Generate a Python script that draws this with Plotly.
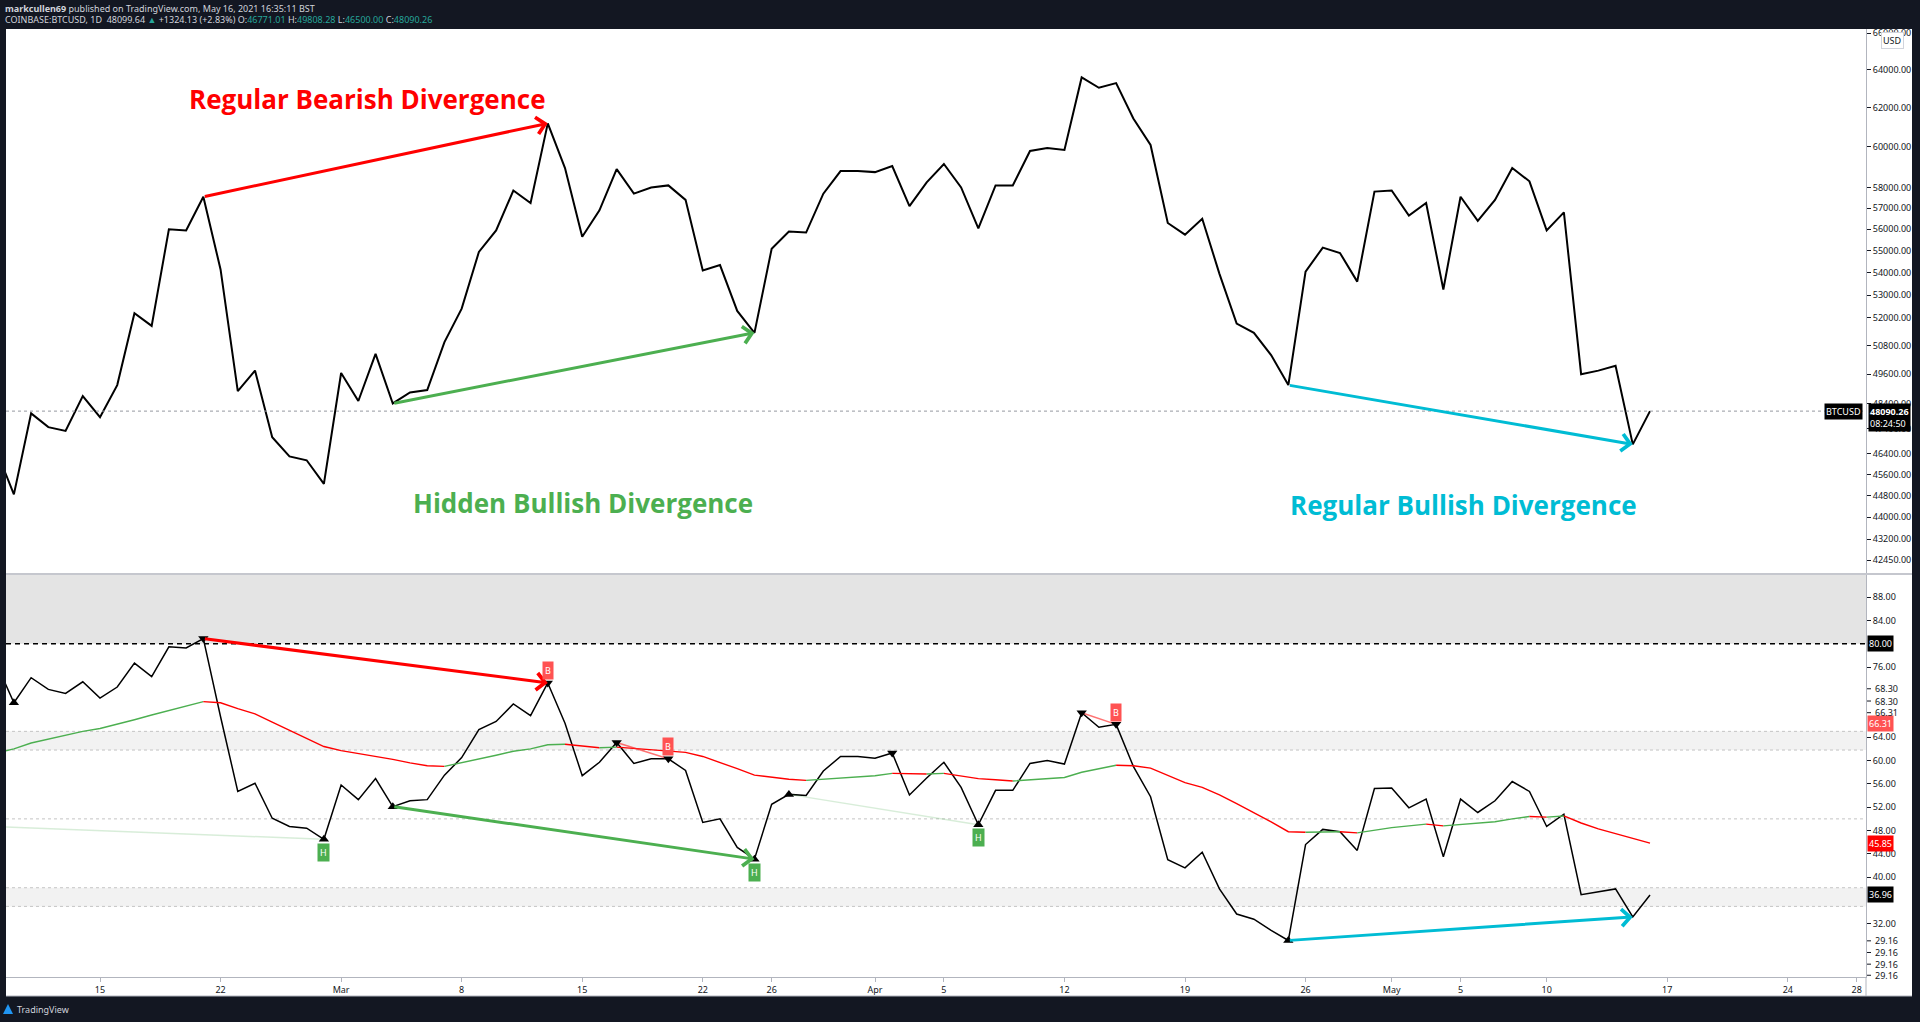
import numpy as np
import pandas as pd
import plotly.graph_objects as go
from plotly.subplots import make_subplots

## BTCUSD daily closes (Feb 9 - May 16, 2021)
dates = pd.date_range("2021-02-09", "2021-05-16", freq="D")
close = [46500, 44850, 48000, 47450, 47300, 48700, 47850, 49150, 52200, 51650,
         56000, 55950, 57550, 54150, 48900, 49750, 47050, 46300, 46150, 45250,
         49650, 48500, 50450, 48400, 48850, 48950, 50950, 52400, 54950, 55950,
         57850, 57250, 61200, 58950, 55650, 56900, 58900, 57700, 58000, 58100,
         57400, 54100, 54350, 52300, 51350, 55100, 55900, 55850, 57700, 58800,
         58800, 58750, 59050, 57100, 58250, 59150, 58000, 56050, 58100, 58100,
         59800, 59950, 59850, 63600, 63050, 63300, 61450, 60100, 56300, 55750,
         56500, 53950, 51750, 51350, 50400, 49150, 54050, 55150, 54900, 53600,
         57800, 57850, 56650, 57250, 53250, 57550, 56400, 57400, 58950, 58300,
         55950, 56800, 49600, 49750, 49950, 46770, 48090.26]

## RSI and its moving average (lower pane)
rsi = [76.5, 69.9, 74.2, 72.2, 71.5, 73.5, 70.7, 72.6, 76.7, 74.4,
       79.5, 79.3, 80.9, 67.5, 54.7, 56.1, 50.1, 48.7, 48.4, 46.5,
       55.8, 53.3, 56.9, 52.1, 53.1, 53.3, 57.5, 60.5, 65.3, 66.7,
       69.7, 67.7, 73.3, 66.4, 57.4, 59.7, 63.1, 59.5, 60.3, 60.3,
       58.3, 49.4, 50.0, 45.1, 43.1, 52.5, 54.2, 54.0, 58.2, 60.7,
       60.7, 60.4, 61.3, 54.1, 57.0, 59.7, 55.4, 49.0, 54.9, 54.9,
       59.5, 60.0, 59.4, 68.2, 65.7, 66.2, 59.0, 53.8, 43.0, 41.6,
       44.3, 38.0, 33.7, 32.8, 30.9, 29.16, 45.6, 48.2, 47.8, 44.6,
       55.2, 55.3, 51.9, 53.4, 43.5, 53.4, 51.1, 53.1, 56.4, 54.7,
       48.7, 50.8, 37.0, 37.5, 38.0, 33.2, 36.96]
rsi_ma = [61.3, 62.0, 63.0, 63.7, 64.4, 65.0, 65.5, 66.2, 67.0, 67.8,
          68.6, 69.3, 70.1, 69.9, 68.9, 68.0, 66.6, 65.2, 63.8, 62.4,
          61.7, 61.2, 60.8, 60.2, 59.6, 59.1, 59.0, 59.6, 60.2, 60.9,
          61.6, 62.0, 62.7, 62.8, 62.5, 62.2, 62.3, 62.1, 61.8, 61.6,
          61.4, 60.7, 59.7, 58.6, 57.5, 57.1, 56.8, 56.6, 56.8, 57.0,
          57.2, 57.4, 57.8, 57.7, 57.7, 57.8, 57.4, 56.9, 56.7, 56.5,
          56.7, 56.9, 57.1, 58.0, 58.6, 59.2, 59.1, 58.7, 57.4, 56.2,
          55.4, 54.1, 52.6, 51.1, 49.5, 47.8, 47.7, 47.75, 47.8, 47.6,
          48.1, 48.5, 48.8, 49.1, 48.8, 49.0, 49.2, 49.5, 50.0, 50.4,
          50.3, 50.5, 49.3, 48.3, 47.5, 46.6, 45.85]

price_ticks = [42450, 43200, 44000, 44800, 45600, 46400, 47400, 48400, 49600, 50800,
               52000, 53000, 54000, 55000, 56000, 57000, 58000, 60000, 62000, 64000, 66000]
rsi_ticks = [88, 84, 76, 64, 60, 56, 52, 48, 44, 40, 32]
x_tickvals = ["2021-02-15", "2021-02-22", "2021-03-01", "2021-03-08", "2021-03-15",
              "2021-03-22", "2021-03-26", "2021-04-01", "2021-04-05", "2021-04-12",
              "2021-04-19", "2021-04-26", "2021-05-01", "2021-05-05", "2021-05-10",
              "2021-05-17", "2021-05-24", "2021-05-28"]
x_ticktext = ["15", "22", "Mar", "8", "15", "22", "26", "Apr", "5", "12", "19", "26",
              "May", "5", "10", "17", "24", "28"]

## pivots found by the indicator
pivot_highs = ["2021-02-21", "2021-03-13", "2021-03-17", "2021-03-20", "2021-04-02",
               "2021-04-13", "2021-04-15"]
pivot_lows = ["2021-02-10", "2021-02-28", "2021-03-04", "2021-03-25", "2021-03-27",
              "2021-04-07", "2021-04-25"]
bear_tags = ["2021-03-13", "2021-03-20", "2021-04-15"]
hidden_tags = ["2021-02-28", "2021-03-25", "2021-04-07"]

## hand drawn divergences: start, end, label
RED, GREEN, CYAN = "#ff0000", "#4caf50", "#00bcd4"
divergences = [("2021-02-21", "2021-03-13", RED, "Regular Bearish Divergence"),
               ("2021-03-04", "2021-03-25", GREEN, "Hidden Bullish Divergence"),
               ("2021-04-25", "2021-05-15", CYAN, "Regular Bullish Divergence")]
## faint indicator lines (start date, start rsi, end date, end rsi)
faint_lines = [("2021-02-09 13:00", 48.6, "2021-02-28", 46.5, "rgba(76,175,80,0.22)"),
               ("2021-03-27", 54.2, "2021-04-07", 49.0, "rgba(76,175,80,0.22)"),
               ("2021-03-17", 63.1, "2021-03-20", 60.3, "rgba(255,40,40,0.65)"),
               ("2021-04-13", 68.2, "2021-04-15", 66.2, "rgba(255,40,40,0.65)")]

price = pd.Series(close, index=dates)
osc = pd.Series(rsi, index=dates)
last_price = close[-1]

W, H = 1920, 1022
L, R, T, B = 6, 54, 29, 45
PW, PH = W - L - R, H - T - B
def px(x):  # pixel x -> paper
    return (x - L) / PW
def py(y):  # pixel y -> paper
    return (H - B - y) / PH

FONT = "Noto Sans"
TXT = "#131722"

fig = make_subplots(rows=2, cols=1, shared_xaxes=True)

## price pane
fig.add_trace(go.Scatter(x=dates, y=close, mode="lines",
                         line=dict(color="black", width=2), hoverinfo="skip"), row=1, col=1)

## oscillator pane
fig.add_trace(go.Scatter(x=dates, y=rsi, mode="lines",
                         line=dict(color="black", width=1.5), hoverinfo="skip"), row=2, col=1)

# moving average coloured by slope
start = 0
up = rsi_ma[1] > rsi_ma[0]
runs = []
for i in range(1, len(rsi_ma) - 1):
    nxt = rsi_ma[i + 1] > rsi_ma[i]
    if nxt != up:
        runs.append((start, i, up))
        start, up = i, nxt
runs.append((start, len(rsi_ma) - 1, up))
for s, e, u in runs:
    fig.add_trace(go.Scatter(x=dates[s:e + 1], y=rsi_ma[s:e + 1], mode="lines",
                             line=dict(color=GREEN if u else RED, width=1.4),
                             hoverinfo="skip"), row=2, col=1)

for d0, v0, d1, v1, c in faint_lines:
    fig.add_trace(go.Scatter(x=[d0, d1], y=[v0, v1], mode="lines",
                             line=dict(color=c, width=1.5), hoverinfo="skip"), row=2, col=1)

fig.add_trace(go.Scatter(x=pivot_highs, y=[osc[d] for d in pivot_highs], mode="markers",
                         marker=dict(symbol="triangle-down", size=9, color="black"),
                         hoverinfo="skip"), row=2, col=1)
fig.add_trace(go.Scatter(x=pivot_lows, y=[osc[d] for d in pivot_lows], mode="markers",
                         marker=dict(symbol="triangle-up", size=9, color="black"),
                         hoverinfo="skip"), row=2, col=1)

ann = []
## divergence arrows in both panes
for d0, d1, c, label in divergences:
    ann.append(dict(x=d1, y=np.log10(price[d1]), ax=d0, ay=np.log10(price[d0]),
                    xref="x", yref="y", axref="x", ayref="y", text="", showarrow=True,
                    arrowhead=4, arrowsize=1.1, arrowwidth=3, arrowcolor=c))
    ann.append(dict(x=d1, y=osc[d1], ax=d0, ay=osc[d0],
                    xref="x2", yref="y2", axref="x2", ayref="y2", text="", showarrow=True,
                    arrowhead=4, arrowsize=1.1, arrowwidth=3, arrowcolor=c))

label_pos = [(367, 99), (583, 503), (1463, 505)]
for (d0, d1, c, label), (lx, ly) in zip(divergences, label_pos):
    ann.append(dict(x=px(lx), y=py(ly), xref="paper", yref="paper", text=label,
                    xanchor="center", yanchor="middle", showarrow=False,
                    font=dict(family="Open Sans", size=26, color=c, weight="bold")))

for d in bear_tags:
    ann.append(dict(x=d, y=osc[d], xref="x2", yref="y2", text="B", showarrow=False,
                    yshift=12, bgcolor="#ff5252", borderpad=2,
                    font=dict(family=FONT, size=9, color="white")))
for d in hidden_tags:
    ann.append(dict(x=d, y=osc[d], xref="x2", yref="y2", text="H", showarrow=False,
                    yshift=-13, bgcolor="#4caf50", borderpad=2,
                    font=dict(family=FONT, size=9, color="white")))

## axis value boxes
ann.append(dict(x=px(1863), y=np.log10(last_price), xref="paper", yref="y", text="BTCUSD",
                xanchor="right", yanchor="middle", showarrow=False, bgcolor="black",
                borderpad=1, font=dict(family=FONT, size=9, color="white")))
ann.append(dict(x=px(1868), y=np.log10(last_price), xref="paper", yref="y",
                text="<b>%.2f</b><br>08:24:50" % last_price, yanchor="top", yshift=8,
                xanchor="left", showarrow=False, bgcolor="black", borderpad=1, align="left",
                font=dict(family=FONT, size=9, color="white")))
ann.append(dict(x=px(1892), y=py(41), xref="paper", yref="paper", text="USD",
                xanchor="center", yanchor="middle",
                showarrow=False, bgcolor="white", bordercolor="#d1d4dc", borderwidth=1,
                borderpad=1, font=dict(family=FONT, size=9, color=TXT)))
for v, bg in [(80.0, "black"), (66.31, "#ff5252"), (rsi_ma[-1], "#ff0000"), (rsi[-1], "black")]:
    ann.append(dict(x=px(1867), y=v, xref="paper", yref="y2", text="%.2f" % v,
                    xanchor="left", yanchor="middle", showarrow=False, bgcolor=bg, borderpad=1,
                    font=dict(family=FONT, size=9, color="white")))
stacked = [(72.3, "68.30"), (70.2, "68.30"), (68.2, "66.31"),
           (29.1, "29.16"), (27.1, "29.16"), (25.1, "29.16"), (23.2, "29.16")]
for v, t in stacked:
    ann.append(dict(x=px(1873), y=v, xref="paper", yref="y2", text=t, xanchor="left",
                    yanchor="middle", showarrow=False,
                    font=dict(family=FONT, size=9, color=TXT)))

## header / footer
ann.append(dict(x=px(3), y=py(8), xref="paper", yref="paper", xanchor="left",
                yanchor="middle", showarrow=False,
                font=dict(family=FONT, size=9, color="#d1d4dc"),
                text="<b>markcullen69</b> published on TradingView.com, May 16, 2021 16:35:11 BST"))
teal = "#26a69a"
hdr = ("COINBASE:BTCUSD, 1D  48099.64 <span style='color:%s'>▲</span> +1324.13 (+2.83%%) "
       "O:<span style='color:%s'>46771.01</span> H:<span style='color:%s'>49808.28</span> "
       "L:<span style='color:%s'>46500.00</span> C:<span style='color:%s'>48090.26</span>"
       % (teal, teal, teal, teal, teal))
ann.append(dict(x=px(3), y=py(20), xref="paper", yref="paper", xanchor="left",
                yanchor="middle", showarrow=False,
                font=dict(family=FONT, size=9, color="#d1d4dc"), text=hdr))
ann.append(dict(x=px(15), y=py(1009), xref="paper", yref="paper", xanchor="left",
                yanchor="middle", showarrow=False,
                font=dict(family=FONT, size=9, color="#d1d4dc"), text="TradingView"))

shapes = [
    # white chart card incl. axis strips
    dict(type="rect", xref="paper", yref="paper", x0=px(6), x1=px(1912), y0=py(996), y1=py(29),
         fillcolor="white", line_width=0, layer="below"),
    dict(type="line", xref="paper", yref="paper", x0=px(6), x1=px(1912), y0=py(996), y1=py(996),
         line=dict(color="#b2b5be", width=1)),
    dict(type="line", xref="paper", yref="paper", x0=px(6), x1=px(1912), y0=py(574), y1=py(574),
         line=dict(color="#b2b5be", width=1.5)),
    dict(type="line", xref="paper", yref="paper", x0=1, x1=1, y0=py(996), y1=py(977),
         line=dict(color="#b2b5be", width=1)),
    # last price line
    dict(type="line", xref="x domain", yref="y", x0=0, x1=1, y0=last_price, y1=last_price,
         line=dict(color="#9598a1", width=1, dash="dot")),
    # oscillator zones
    dict(type="rect", xref="x2 domain", yref="y2", x0=0, x1=1, y0=80, y1=100,
         fillcolor="#e4e4e4", line_width=0, layer="below"),
    dict(type="rect", xref="x2 domain", yref="y2", x0=0, x1=1, y0=61.8, y1=65,
         fillcolor="#f2f2f2", line_width=0, layer="below"),
    dict(type="rect", xref="x2 domain", yref="y2", x0=0, x1=1, y0=35, y1=38.2,
         fillcolor="#f2f2f2", line_width=0, layer="below"),
]
for lvl in [65, 61.8, 50, 38.2, 35]:
    shapes.append(dict(type="line", xref="x2 domain", yref="y2", x0=0, x1=1, y0=lvl, y1=lvl,
                       line=dict(color="#c4c4c4", width=1, dash="3px,3px"), layer="below"))
shapes.append(dict(type="line", xref="x2 domain", yref="y2", x0=0, x1=1, y0=80, y1=80,
                   line=dict(color="black", width=1.5, dash="5px,4px")))
for v, t in stacked:
    shapes.append(dict(type="line", xref="paper", yref="y2", x0=px(1867), x1=px(1871),
                       y0=v, y1=v, line=dict(color=TXT, width=1)))
# little logo mark
shapes.append(dict(type="path", xref="paper", yref="paper",
                   path="M %f %f L %f %f L %f %f Z" % (px(3), py(1014), px(8), py(1004),
                                                       px(13), py(1014)),
                   fillcolor="#2196f3", line_width=0))

fig.update_layout(
    width=W, height=H, margin=dict(l=L, r=R, t=T, b=B),
    paper_bgcolor="#131722", plot_bgcolor="white", showlegend=False,
    annotations=ann, shapes=shapes,
    font=dict(family=FONT, size=9, color=TXT),
)
xr = ["2021-02-09 13:00", "2021-05-28 13:00"]
fig.update_xaxes(range=xr, showgrid=False, zeroline=False)
fig.update_xaxes(showticklabels=False, showline=False, ticks="", row=1, col=1)
fig.update_xaxes(tickvals=x_tickvals, ticktext=x_ticktext, ticks="outside", ticklen=4,
                 tickcolor="#b2b5be", showline=True, linecolor="#b2b5be",
                 tickfont=dict(family=FONT, size=9, color=TXT), row=2, col=1)
fig.update_layout(
    xaxis=dict(domain=[0, 1]), xaxis2=dict(domain=[0, 1]),
    yaxis=dict(domain=[py(574) + 0.001, 1], type="log", side="right",
               range=[np.log10(41990), np.log10(66233)], tickvals=price_ticks,
               ticktext=["%.2f" % v for v in price_ticks], showgrid=False, zeroline=False,
               ticks="outside", ticklen=4, tickcolor=TXT, showline=True, linecolor="#b2b5be",
               tickfont=dict(family=FONT, size=9, color=TXT)),
    yaxis2=dict(domain=[0, py(575)], side="right", range=[22.9, 91.8], tickvals=rsi_ticks,
                ticktext=["%.2f" % v for v in rsi_ticks], showgrid=False, zeroline=False,
                ticks="outside", ticklen=4, tickcolor=TXT, showline=True, linecolor="#b2b5be",
                tickfont=dict(family=FONT, size=9, color=TXT)),
)

# page has a default 8px body margin; drop it so the figure fills the window
fig.write_html("out.html", config={"displayModeBar": False},
               post_script="document.body.style.margin='0px';document.body.style.overflow='hidden';")
